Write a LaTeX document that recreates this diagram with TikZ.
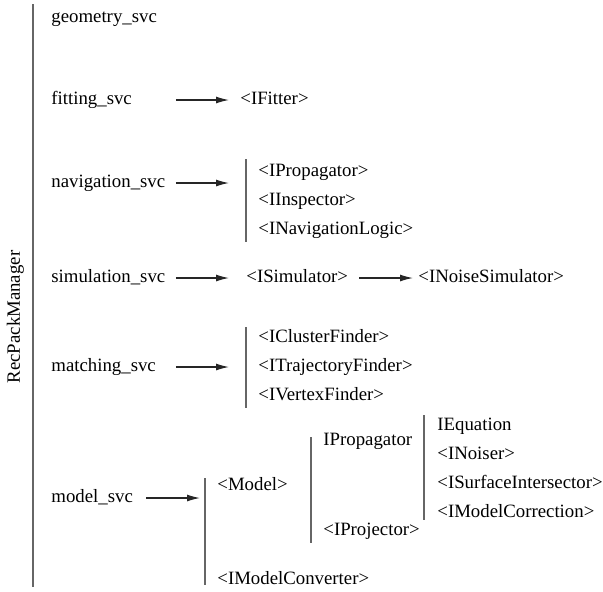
\documentclass[tikz,border=0pt]{standalone}
\usepackage{fontspec}
\setmainfont{Liberation Serif}
\usetikzlibrary{arrows.meta}
\begin{document}
\begin{tikzpicture}[
      x=0.5pt, y=-0.5pt,
      every node/.style={font=\fontsize{9.4}{11}\selectfont, inner sep=0pt, text height=0.7em, text depth=0.22em},
      item/.style={anchor=west},
      svc/.style={anchor=west, text width=57pt, align=left},
      bar/.style={draw=black!60, line width=0.75pt},
      link/.style={draw=black!85, line width=0.6pt, -{Latex[length=6.5pt, width=3.5pt]}, shorten <=5pt, shorten >=5.5pt}
      ]
    \useasboundingbox (0,0) rectangle (603,591);

    \draw[bar] (33,4) -- (33,587);
    \node[rotate=90] (recpack) at (15,317) {RecPackManager};

    \node[svc] (geometry_svc)   at (51,18)  {geometry\_svc};
    \node[svc] (fitting_svc)    at (51,100) {fitting\_svc};
    \node[svc] (navigation_svc) at (51,183) {navigation\_svc};
    \node[svc] (simulation_svc) at (51,278) {simulation\_svc};
    \node[svc] (matching_svc)   at (51,367) {matching\_svc};
    \node[item] (model_svc)     at (51,498) {model\_svc};

    \node[item] (ifitter) at (240,100) {<IFitter>};
    \draw[link] (fitting_svc.east) -- (ifitter.west);

    \draw[bar] (246,159) coordinate (nav_top) -- (246,242);
    \node[item] (ipropagator)      at (258,172) {<IPropagator>};
    \node[item] (iinspector)       at (258,201) {<IInspector>};
    \node[item] (inavigationlogic) at (258,230) {<INavigationLogic>};
    \draw[link, shorten >=8.5pt] (navigation_svc.east) -- (navigation_svc.east -| nav_top);

    \node[item] (isimulator)      at (246,278) {<ISimulator>};
    \node[item] (inoisesimulator) at (418,278) {<INoiseSimulator>};
    \draw[link, shorten >=8.5pt] (simulation_svc.east) -- (isimulator.west);
    \draw[link, shorten <=5.5pt, shorten >=2.5pt] (isimulator.east) -- (inoisesimulator.west);

    \draw[bar] (246,327) coordinate (match_top) -- (246,408);
    \node[item] (iclusterfinder)    at (258,338) {<IClusterFinder>};
    \node[item] (itrajectoryfinder) at (258,367) {<ITrajectoryFinder>};
    \node[item] (ivertexfinder)     at (258,396) {<IVertexFinder>};
    \draw[link, shorten >=8.5pt] (matching_svc.east) -- (matching_svc.east -| match_top);

    \draw[bar] (205,478) coordinate (model_top) -- (205,585);
    \node[item] (model)           at (217,486) {<Model>};
    \node[item] (imodelconverter) at (217,580) {<IModelConverter>};
    \draw[link, shorten <=6.5pt, shorten >=2.5pt] (model_svc.east) -- (model_svc.east -| model_top);

    \draw[bar] (311,437) -- (311,543);
    \node[item] (propagator) at (323,441) {IPropagator};
    \node[item] (iprojector) at (323,531) {<IProjector>};

    \draw[bar] (424,415) -- (424,520);
    \node[item] (iequation)           at (437,426) {IEquation};
    \node[item] (inoiser)             at (437,455) {<INoiser>};
    \node[item] (isurfaceintersector) at (437,484) {<ISurfaceIntersector>};
    \node[item] (imodelcorrection)    at (437,513) {<IModelCorrection>};

\end{tikzpicture}
\end{document}
